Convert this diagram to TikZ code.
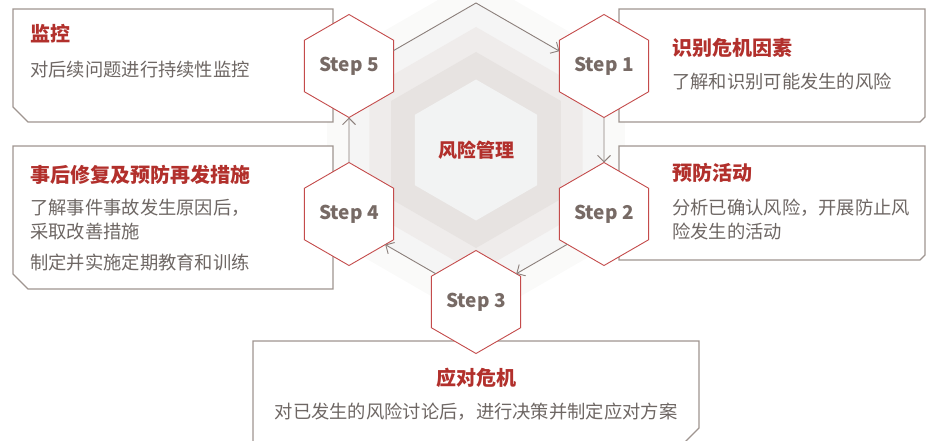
\documentclass[tikz,border=0pt]{standalone}
\usepackage{fontspec}
\setmainfont{Noto Sans CJK SC}
\usetikzlibrary{shapes.geometric,arrows.meta,calc}
\definecolor{hexred}{HTML}{C44B4B}
\definecolor{titlered}{HTML}{B2302C}
\definecolor{bodygray}{HTML}{6E6764}
\definecolor{stepgray}{HTML}{776A65}
\definecolor{boxgray}{HTML}{9F9590}
\definecolor{arrgray}{HTML}{8B7F7B}
\definecolor{ringA}{HTML}{FAFAF9}
\definecolor{ringB}{HTML}{F5F5F5}
\definecolor{ringC}{HTML}{EFECEB}
\definecolor{ringD}{HTML}{E7E3E1}
\definecolor{ringE}{HTML}{F2F3F3}
\begin{document}
\begin{tikzpicture}[x=1pt,y=1pt,
  ringhex/.style={regular polygon, regular polygon sides=6, shape border rotate=30, inner sep=0pt, outer sep=0pt, draw=none},
  stephex/.style={regular polygon, regular polygon sides=6, shape border rotate=30, minimum size=103pt, inner sep=0pt, outer sep=0pt, draw=hexred, line width=0.9pt, fill=white, text=stepgray, font=\fontsize{19}{22}\selectfont\bfseries},
  boxshape/.style={draw=boxgray, line width=1.2pt, fill=white, line join=miter},
  arr/.style={draw=arrgray, line width=0.9pt, -{Straight Barb[length=6.5pt,width=13pt]}},
  ttl/.style={inner sep=0pt, text=titlered, font=\fontsize{20}{24}\selectfont\bfseries},
  bdy/.style={inner sep=0pt, text=bodygray, font=\fontsize{18.3}{22}\selectfont},
]
\useasboundingbox (0,0) rectangle (926,440);
\clip (0,0) rectangle (926,440);

% background rings
\coordinate (C) at (476,290);
\node[ringhex, minimum size=344pt, fill=ringA] (ring5) at (C) {};
\node[ringhex, minimum size=294pt, fill=ringB] (ring4) at (C) {};
\node[ringhex, minimum size=246pt, fill=ringC] (ring3) at (C) {};
\node[ringhex, minimum size=196pt, fill=ringD] (ring2) at (C) {};
\node[ringhex, minimum size=141pt, fill=ringE, text=titlered, font=\fontsize{19}{22}\selectfont\bfseries] (ring1) at (C) {风险管理};

% ring corners for the connectors
\coordinate (r4t)  at ($(C)+(90:147)$);
\coordinate (r4ur) at ($(C)+(30:147)$);
\coordinate (r4lr) at ($(C)+(-30:147)$);
\coordinate (r4b)  at ($(C)+(-90:147)$);
\coordinate (r4ll) at ($(C)+(210:147)$);
\coordinate (r4ul) at ($(C)+(150:147)$);

% boxes
\draw[boxshape] (13,431) -- (333,431) -- (333,318) -- (28,318) -- (13,333) -- cycle;
\draw[boxshape] (13,294) -- (333,294) -- (333,151) -- (28,151) -- (13,166) -- cycle;
\draw[boxshape] (619,431) -- (925,431) -- (925,323) -- (920,318) -- (619,318) -- cycle;
\draw[boxshape] (619,294) -- (925,294) -- (925,185) -- (920,180) -- (619,180) -- cycle;
\draw[boxshape] (253,99) -- (699,99) -- (699,12) -- (684,-3) -- (253,-3) -- cycle;

% step hexagons
\node[stephex] (s1) at (604,374) {Step 1};
\node[stephex] (s2) at (604,226) {Step 2};
\node[stephex] (s3) at (476,138) {Step 3};
\node[stephex] (s4) at (349,226) {Step 4};
\node[stephex] (s5) at (349,374) {Step 5};

% connector end points on the ring edges
\coordinate (a51s) at (intersection cs: first line={(r4ul)--(r4t)}, second line={(s5.30)--(s5.-30)});
\coordinate (a51e) at (intersection cs: first line={(r4t)--(r4ur)}, second line={(s1.150)--(s1.210)});
\coordinate (a23s) at (intersection cs: first line={(r4lr)--(r4b)}, second line={(s2.210)--(s2.270)});
\coordinate (a23e) at (intersection cs: first line={(r4lr)--(r4b)}, second line={(s3.90)--(s3.30)});
\coordinate (a34s) at (intersection cs: first line={(r4b)--(r4ll)}, second line={(s3.90)--(s3.150)});
\coordinate (a34e) at (intersection cs: first line={(r4b)--(r4ll)}, second line={(s4.-30)--(s4.-90)});

% connectors
\draw[arr] (a51s) -- (r4t) -- (a51e);
\draw[arr] (s1) -- (s2);
\draw[arr] (a23s) -- (a23e);
\draw[arr] (a34s) -- (a34e);
\draw[arr] (s4) -- (s5);

% texts
\node[ttl, anchor=west] (t5) at (30,406) {监控};
\node[bdy, anchor=west] (b5) at (30,370) {对后续问题进行持续性监控};

\node[ttl, anchor=west] (t4) at (30,265) {事后修复及预防再发措施};
\node[bdy, anchor=west] (b4a) at (30,232) {了解事件事故发生原因后，};
\node[bdy, anchor=west] (b4b) at (30,208) {采取改善措施};
\node[bdy, anchor=west] (b4c) at (30,177) {制定并实施定期教育和训练};

\node[ttl, anchor=west] (t1) at (672,392) {识别危机因素};
\node[bdy, anchor=west] (b1) at (672,358) {了解和识别可能发生的风险};

\node[ttl, anchor=west] (t2) at (672,267) {预防活动};
\node[bdy, anchor=west] (b2a) at (672,232) {分析已确认风险，开展防止风};
\node[bdy, anchor=west] (b2b) at (672,208) {险发生的活动};

\node[ttl] (t3) at (476,62) {应对危机};
\node[bdy] (b3) at (476,28) {对已发生的风险讨论后，进行决策并制定应对方案};
\end{tikzpicture}
\end{document}
